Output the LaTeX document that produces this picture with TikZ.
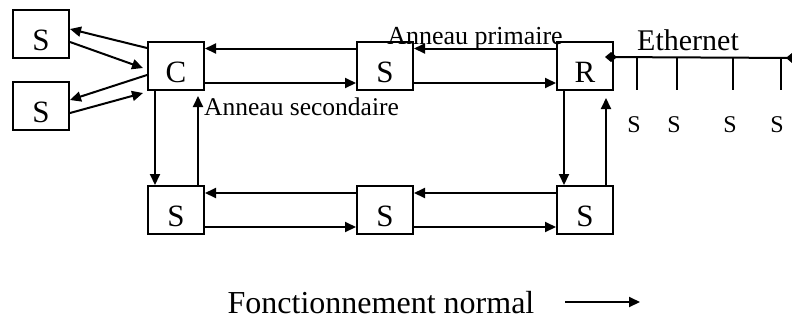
\documentclass[tikz,border=0pt]{standalone}
\usepackage{fontspec}
\setmainfont{Liberation Serif}
\usetikzlibrary{arrows.meta,calc}
\begin{document}
\begin{tikzpicture}[x=1bp,y=-1bp,
  box/.style={draw,line width=2bp,minimum width=56bp,minimum height=48bp,inner sep=0pt,text height=32bp,text depth=0pt,font=\fontsize{31bp}{36bp}\selectfont},
  link/.style={line width=2bp,-{Triangle[length=11bp,width=10bp]}},
  wire/.style={line width=2bp},
  lbl/.style={inner sep=0pt,anchor=base},
  small/.style={lbl,font=\fontsize{24bp}{28bp}\selectfont},
]
\useasboundingbox (0,0) rectangle (792,320);
% boxes
\node[box] (sl1) at (41,34) {S};
\node[box] (sl2) at (41,106) {S};
\node[box] (c) at (176,66) {C};
\node[box] (st) at (385,66) {S};
\node[box] (r) at (585,66) {R};
\node[box] (sb1) at (176,210) {S};
\node[box] (sb2) at (385,210) {S};
\node[box] (sb3) at (585,210) {S};
% left star
\draw[link] ($(c.north west)+(0,7)$) -- ($(sl1.east)+(0,-5)$);
\draw[link] ($(sl1.east)+(0,8)$) -- ($(c.west)+(-4,2)$);
\draw[link] ($(c.west)+(0,9)$) -- ($(sl2.east)+(0,-6)$);
\draw[link] ($(sl2.east)+(0,7)$) -- ($(c.west)+(-4,27)$);
% top ring
\draw[link] ($(st.north west)+(0,7.5)$) -- ($(c.north east)+(0,7.5)$);
\draw[link] ($(c.south east)+(0,-8)$) -- ($(st.south west)+(0,-8)$);
\draw[link] ($(r.north west)+(0,7.5)$) -- ($(st.north east)+(0,7.5)$);
\draw[link] ($(st.south east)+(0,-8)$) -- ($(r.south west)+(0,-8)$);
% verticals
\draw[link] ($(c.south west)+(8,0)$) -- ($(sb1.north west)+(8,0)$);
\draw[link] ($(sb1.north east)+(-7,0)$) -- ($(c.south east)+(-7,5)$);
\draw[link] ($(r.south west)+(8,0)$) -- ($(sb3.north west)+(8,0)$);
\draw[link] ($(sb3.north east)+(-8,0)$) -- ($(r.south east)+(-8,7)$);
% bottom ring
\draw[link] ($(sb2.north west)+(0,8)$) -- ($(sb1.north east)+(0,8)$);
\draw[link] ($(sb3.north west)+(0,8)$) -- ($(sb2.north east)+(0,8)$);
\draw[link] ($(sb1.south east)+(0,-8)$) -- ($(sb2.south west)+(0,-8)$);
\draw[link] ($(sb2.south east)+(0,-8)$) -- ($(sb3.south west)+(0,-8)$);
% ethernet
\coordinate (eend) at (798,58);
\draw[wire,{Diamond[length=12bp,width=10bp]}-{Diamond[length=12bp,width=10bp]}] ($(r.north east)+(-9,16)$) -- (eend);
\coordinate (d1) at (637,58);
\coordinate (d2) at (677,58);
\coordinate (d3) at (733,58);
\coordinate (d4) at (781,58);
\draw[wire] (d1) -- ++(0,32);
\draw[wire] (d2) -- ++(0,32);
\draw[wire] (d3) -- ++(0,32);
\draw[wire] (d4) -- ++(0,32);
\node[small] (e1) at (634,132) {S};
\node[small] (e2) at (674,132) {S};
\node[small] (e3) at (730,132) {S};
\node[small] (e4) at (777,132) {S};
% labels
\node[lbl,font=\fontsize{26bp}{30bp}\selectfont] (prim) at (475,44) {Anneau primaire};
\node[inner sep=0pt,anchor=base west,font=\fontsize{25.5bp}{30bp}\selectfont] (sec) at (204,115) {Anneau secondaire};
\node[inner sep=0pt,anchor=base west,font=\fontsize{30bp}{34bp}\selectfont] (eth) at (637,50) {Ethernet};
\node[lbl,font=\fontsize{32bp}{36bp}\selectfont] (fn) at (381,313) {Fonctionnement normal};
\coordinate (la) at (565,302);
\coordinate (lb) at (640,302);
\draw[link] (la) -- (lb);
\end{tikzpicture}
\end{document}
